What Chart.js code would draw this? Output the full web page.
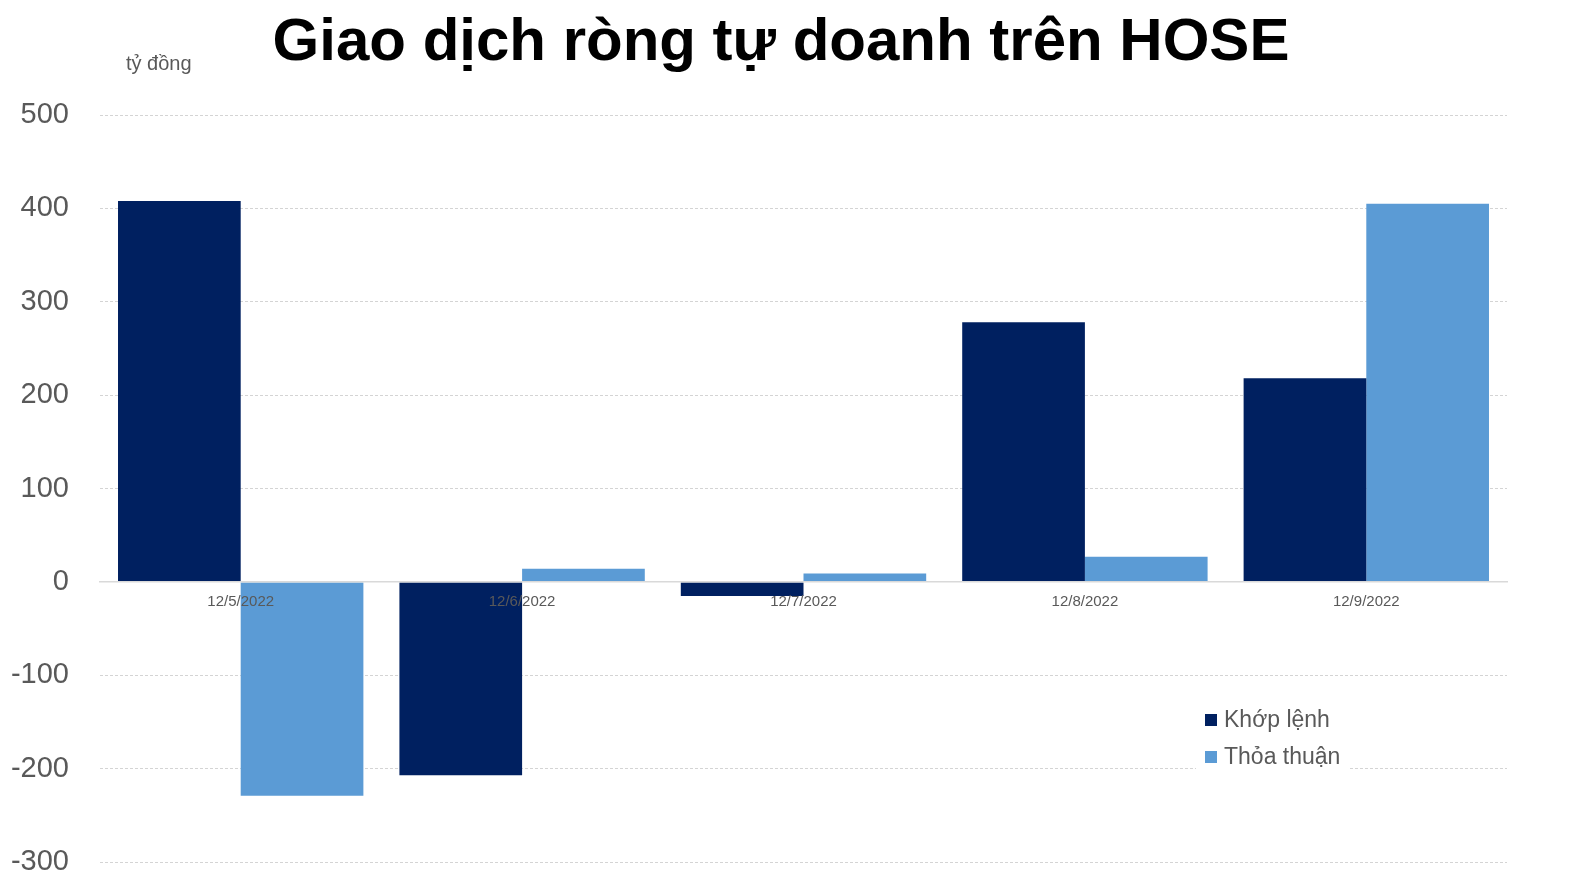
<!DOCTYPE html>
<html>
<head>
<meta charset="utf-8">
<script src="https://cdn.jsdelivr.net/npm/chart.js@4.4.1/dist/chart.umd.min.js"></script>
<style>
  html, body { margin: 0; padding: 0; background: #ffffff; }
  #wrap { width: 1589px; height: 894px; position: relative; }
</style>
</head>
<body>
<div id="wrap"><canvas id="c" width="1589" height="894"></canvas></div>
<script>
const chartTitle = "Giao dịch ròng tự doanh trên HOSE";
const unitLabel = "tỷ đồng";
const categories = ["12/5/2022", "12/6/2022", "12/7/2022", "12/8/2022", "12/9/2022"];
const seriesNames = ["Khớp lệnh", "Thỏa thuận"];
const khopLenh = [408, -207, -15, 278, 218];
const thoaThuan = [-229, 14, 9, 27, 405];
const seriesColors = ["#002060", "#5B9BD5"];
const yMin = -300, yMax = 500, yStep = 100;

const overlayPlugin = {
  id: 'overlay',
  afterDraw(chart) {
    const ctx = chart.ctx;
    ctx.save();
    // Title
    ctx.fillStyle = '#000000';
    ctx.font = 'bold 60px "Liberation Sans", Arial, sans-serif';
    ctx.textAlign = 'center';
    ctx.textBaseline = 'alphabetic';
    ctx.fillText(chartTitle, 781, 60, 1020);
    // Unit label
    ctx.fillStyle = '#595959';
    ctx.font = '20px "Liberation Sans", Arial, sans-serif';
    ctx.textAlign = 'left';
    ctx.fillText(unitLabel, 126, 70);
    // Legend
    ctx.fillStyle = '#ffffff';
    ctx.fillRect(1196, 698, 154, 76);
    ctx.font = '23px "Liberation Sans", Arial, sans-serif';
    ctx.textBaseline = 'middle';
    chart.data.datasets.forEach((ds, i) => {
      const y = 720 + i * 37;
      ctx.fillStyle = ds.backgroundColor;
      ctx.fillRect(1205, y - 6, 12, 12);
      ctx.fillStyle = '#595959';
      ctx.fillText(ds.label, 1224, y + 1);
    });
    ctx.restore();
  }
};

new Chart(document.getElementById('c'), {
  type: 'bar',
  data: {
    labels: categories,
    datasets: [
      { label: seriesNames[0], data: khopLenh, backgroundColor: seriesColors[0] },
      { label: seriesNames[1], data: thoaThuan, backgroundColor: seriesColors[1] }
    ]
  },
  options: {
    responsive: false,
    animation: false,
    devicePixelRatio: 1,
    layout: { padding: { top: 115, right: 82, bottom: 32, left: 0 } },
    datasets: { bar: { categoryPercentage: 0.872, barPercentage: 1.0 } },
    plugins: { legend: { display: false }, title: { display: false }, tooltip: { enabled: false } },
    scales: {
      x: {
        position: { y: 0 },
        grid: { display: false, drawTicks: false },
        border: { display: true, color: '#d9d9d9', width: 1.5, z: 1 },
        ticks: { z: 1, color: '#595959', font: { family: '"Liberation Sans", Arial, sans-serif', size: 15 }, padding: 11, maxRotation: 0 }
      },
      y: {
        min: yMin, max: yMax,
        afterFit(scale) { scale.width = 100; scale.paddingTop = 0; scale.paddingBottom = 0; },
        grid: { color: '#d4d4d4', lineWidth: 1, drawTicks: false },
        border: { display: false, dash: [3, 2] },
        ticks: { stepSize: yStep, color: '#595959', font: { family: '"Liberation Sans", Arial, sans-serif', size: 29 }, padding: 31 }
      }
    }
  },
  plugins: [overlayPlugin]
});
</script>
</body>
</html>
